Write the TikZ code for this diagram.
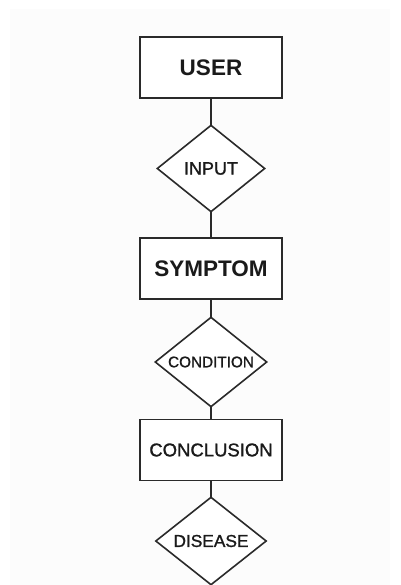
\documentclass[tikz,border=0pt]{standalone}
\usepackage{fontspec}
\setmainfont{Liberation Sans}
\newfontfamily\medfont{Liberation Sans}[FakeBold=1.2]
\usetikzlibrary{shapes.geometric}
\definecolor{linegray}{HTML}{2A2A2A}
\definecolor{inkgray}{HTML}{1A1A1A}
\definecolor{paper}{HTML}{FCFCFC}
\tikzset{
  flowbox/.style={draw=linegray, line width=1.8pt, fill=white, rectangle,
    minimum width=142pt, minimum height=61pt, inner sep=0pt, text=inkgray},
  flowdia/.style={draw=linegray, line width=1.6pt, fill=white, diamond,
    inner sep=0pt, text=inkgray},
  link/.style={draw=linegray, line width=1.8pt},
  bigtxt/.style={font=\fontsize{22.5}{24}\selectfont\bfseries},
}
\begin{document}
\begin{tikzpicture}[x=1pt,y=-1pt]
  % page with a faint inner panel
  \fill[white] (0,0) rectangle (400,585);
  \fill[paper] (10,9) rectangle (390,585);
  \useasboundingbox (0,0) rectangle (400,585);

  % connectors first, so the shapes sit on top
  \coordinate (c1) at (211,67.5);
  \coordinate (c6) at (211,541);
  \draw[link] (c1) -- (c6);

  % boxes
  \node[flowbox, bigtxt] (user) at (211,67.5) {USER};
  \node[flowbox, bigtxt] (symptom) at (211,268.5) {SYMPTOM};
  \node[flowbox, font=\medfont\fontsize{18.5}{20}\selectfont] (conclusion) at (211,450) {CONCLUSION};

  % decision diamonds (labels placed in the centre)
  \node[flowdia, minimum width=108pt, minimum height=87pt,
    label={[text=inkgray, font=\medfont\fontsize{18}{20}\selectfont]center:INPUT}] (input) at (211,168.5) {};
  \node[flowdia, minimum width=112pt, minimum height=90pt,
    label={[text=inkgray, font=\medfont\fontsize{15.3}{17}\selectfont]center:CONDITION}] (condition) at (211,362) {};
  \node[flowdia, minimum width=111pt, minimum height=88pt,
    label={[text=inkgray, font=\medfont\fontsize{17.3}{19}\selectfont]center:DISEASE}] (disease) at (211,541) {};
\end{tikzpicture}
\end{document}
